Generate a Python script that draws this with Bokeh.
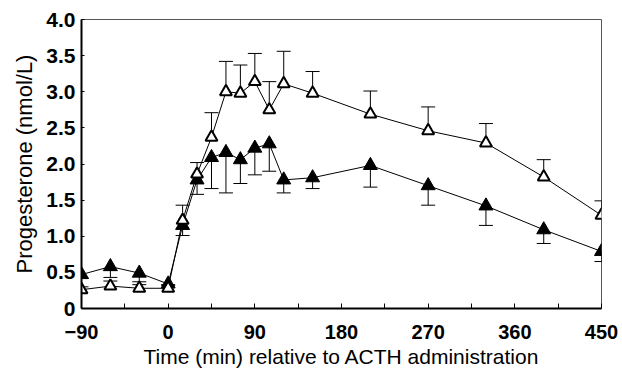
from bokeh.plotting import figure
from bokeh.models import ColumnDataSource, Whisker, FixedTicker, TeeHead, Range1d
from bokeh.embed import file_html
from bokeh.resources import INLINE

# Time points (min relative to ACTH administration)
time_min = [-90, -60, -30, 0, 15, 30, 45, 60, 75, 90, 105, 120, 150, 210, 270, 330, 390, 450]

# Filled triangles series (mean and SEM, error bars drawn downward)
filled_mean = [0.47, 0.58, 0.49, 0.34, 1.15, 1.78, 2.09, 2.16, 2.06, 2.22, 2.28, 1.78, 1.81, 1.98, 1.70, 1.42, 1.09, 0.79]
filled_sem = [0.05, 0.15, 0.12, 0.02, 0.14, 0.20, 0.43, 0.56, 0.33, 0.37, 0.38, 0.18, 0.15, 0.30, 0.27, 0.27, 0.19, 0.14]

# Open triangles series (mean and SEM, error bars drawn upward)
open_mean = [0.26, 0.31, 0.28, 0.28, 1.22, 1.86, 2.37, 3.00, 2.98, 3.14, 2.75, 3.11, 2.98, 2.69, 2.46, 2.29, 1.82, 1.29]
open_sem = [0.04, 0.07, 0.05, 0.05, 0.21, 0.16, 0.34, 0.42, 0.39, 0.39, 0.39, 0.45, 0.30, 0.32, 0.33, 0.27, 0.24, 0.20]

x_ticks = [-90, 0, 90, 180, 270, 360, 450]
x_minor_ticks = [-45, 45, 135, 225, 315, 405]
y_ticks = [0, 0.5, 1.0, 1.5, 2.0, 2.5, 3.0, 3.5, 4.0]
y_tick_labels = ["0", "0.5", "1.0", "1.5", "2.0", "2.5", "3.0", "3.5", "4.0"]

FONT = "Liberation Sans"

p = figure(width=622, height=372, output_backend="svg", toolbar_location=None,
           x_range=Range1d(-90, 450), y_range=Range1d(0, 4.0),
           min_border_left=81, min_border_right=21, min_border_top=19, min_border_bottom=64)
p.background_fill_color = "white"
p.border_fill_color = "white"
p.outline_line_color = "#555555"
p.outline_line_width = 1
p.xgrid.visible = False
p.ygrid.visible = False

src_f = ColumnDataSource(dict(
    x=time_min, y=filled_mean,
    lo=[m - s for m, s in zip(filled_mean, filled_sem)]))
src_o = ColumnDataSource(dict(
    x=time_min, y=open_mean,
    hi=[m + s for m, s in zip(open_mean, open_sem)]))

w_f = Whisker(source=src_f, base="x", upper="y", lower="lo", line_color="black", line_width=1,
              upper_head=None, lower_head=TeeHead(size=14, line_color="black", line_width=1))
w_o = Whisker(source=src_o, base="x", upper="hi", lower="y", line_color="black", line_width=1,
              lower_head=None, upper_head=TeeHead(size=14, line_color="black", line_width=1))
p.add_layout(w_f)
p.add_layout(w_o)

p.line("x", "y", source=src_f, line_color="black", line_width=1)
p.line("x", "y", source=src_o, line_color="black", line_width=1)
p.scatter("x", "y", source=src_f, marker="triangle", size=14, fill_color="black", line_color="black", line_width=1)
p.scatter("x", "y", source=src_o, marker="triangle", size=12, fill_color="white", line_color="black", line_width=2)

# X axis
p.xaxis.ticker = FixedTicker(ticks=x_ticks, minor_ticks=x_minor_ticks)
p.xaxis.axis_label = "Time (min) relative to ACTH administration"
# Y axis
p.yaxis.ticker = FixedTicker(ticks=y_ticks, minor_ticks=[])
p.yaxis.major_label_overrides = {t: l for t, l in zip(y_ticks, y_tick_labels)}
p.yaxis.axis_label = "Progesterone (nmol/L)"

for ax in (p.xaxis[0], p.yaxis[0]):
    ax.axis_line_color = "black"
    ax.axis_line_width = 2
    ax.major_tick_line_color = "black"
    ax.minor_tick_line_color = "black"
    ax.major_tick_out = 0
    ax.minor_tick_out = 0
    ax.major_label_text_font = FONT
    ax.major_label_text_font_style = "bold"
    ax.major_label_text_color = "black"
    ax.axis_label_text_font = FONT
    ax.axis_label_text_font_style = "normal"
    ax.axis_label_text_color = "black"

p.xaxis.major_tick_in = 5
p.xaxis.minor_tick_in = 5
p.xaxis.major_label_text_font_size = "20px"
p.xaxis.major_label_standoff = 16
p.xaxis.axis_label_text_font_size = "21px"
p.xaxis.axis_label_standoff = 3
p.yaxis.major_tick_in = 3
p.yaxis.minor_tick_in = 0
p.yaxis.major_label_text_font_size = "21px"
p.yaxis.major_label_standoff = 6
p.yaxis.axis_label_text_font_size = "22px"
p.yaxis.axis_label_standoff = 6

open("out.html", "w").write(file_html(p, INLINE))
